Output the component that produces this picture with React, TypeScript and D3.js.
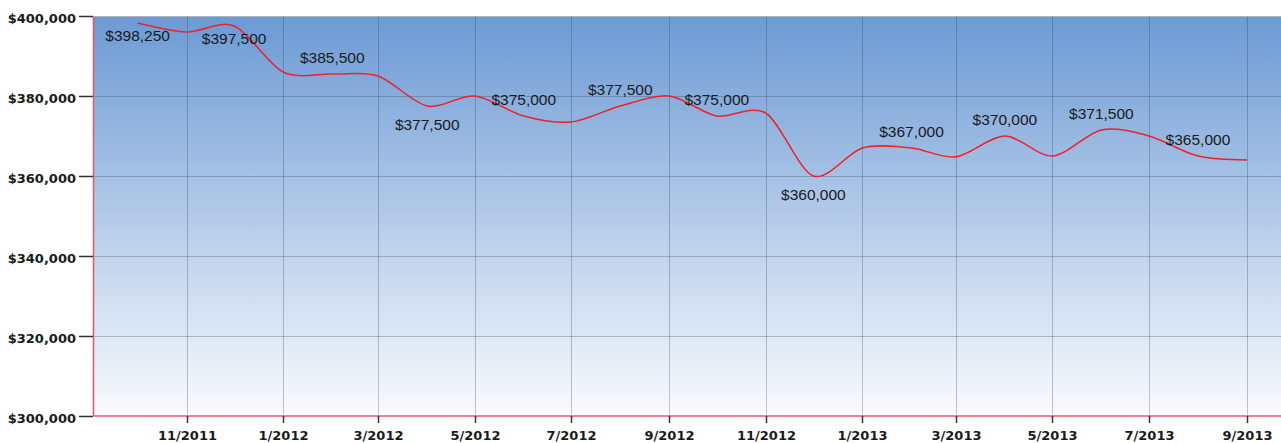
import React from "react";
import * as d3 from "d3";

const months: string[] = [
  "2011-10-01", "2011-11-01", "2011-12-01", "2012-01-01", "2012-02-01", "2012-03-01",
  "2012-04-01", "2012-05-01", "2012-06-01", "2012-07-01", "2012-08-01", "2012-09-01",
  "2012-10-01", "2012-11-01", "2012-12-01", "2013-01-01", "2013-02-01", "2013-03-01",
  "2013-04-01", "2013-05-01", "2013-06-01", "2013-07-01", "2013-08-01", "2013-09-01",
];
const prices: number[] = [
  398250, 396000, 397500, 386000, 385500, 385000,
  377500, 380000, 375000, 373500, 377500, 380000,
  375000, 375700, 360000, 367000, 367000, 364800,
  370000, 365000, 371500, 370000, 365000, 364000,
];
// which points carry a value label, and whether it sits above or below the line
const labelPlacement: string[] = [
  "below", "", "below", "", "above", "",
  "below", "", "above", "", "above", "",
  "above", "", "below", "", "above", "",
  "above", "", "above", "", "above", "",
];
const yTicks: number[] = [300000, 320000, 340000, 360000, 380000, 400000];

const W = 1281;
const H = 443;
const plotLeft = 93.5;
const plotTop = 16.5;
const plotBottom = 416;
const plotRight = 1295;

export default function App() {
  const parse = d3.timeParse("%Y-%m-%d");
  const dates = months.map((m) => parse(m) as Date);
  const data = dates.map((d, i) => ({ date: d, value: prices[i], place: labelPlacement[i] }));

  const x = d3
    .scaleTime()
    .domain([dates[0], dates[dates.length - 1]])
    .range([137.6, 1247]);
  const y = d3.scaleLinear().domain([300000, 400000]).range([plotBottom, plotTop - 0.5]);

  const xTicks = d3.timeMonth
    .every(2)!
    .range(d3.timeMonth.offset(dates[0], 0), d3.timeDay.offset(dates[dates.length - 1], 1));
  const fmtX = (d: Date) => `${d.getMonth() + 1}/${d.getFullYear()}`;
  const fmtY = (v: number) => "$" + d3.format(",")(v);

  const line = d3
    .line<{ date: Date; value: number }>()
    .x((d) => x(d.date))
    .y((d) => y(d.value))
    .curve(d3.curveCardinal.tension(0.1));

  return (
    <svg
      width={W}
      height={H}
      style={{ position: "absolute", left: 0, top: 0, background: "#ffffff" }}
    >
      <defs>
        <linearGradient id="bg" x1="0" y1="0" x2="0" y2="1">
          <stop offset="0%" stopColor="rgb(108,154,212)" />
          <stop offset="100%" stopColor="rgb(250,251,253)" />
        </linearGradient>
        <clipPath id="plotClip">
          <rect x={plotLeft} y={plotTop} width={plotRight - plotLeft} height={plotBottom - plotTop} />
        </clipPath>
      </defs>
      <rect
        x={plotLeft}
        y={plotTop}
        width={plotRight - plotLeft}
        height={plotBottom - plotTop}
        fill="url(#bg)"
      />
      {/* gridlines */}
      <g stroke="rgba(40,50,70,0.28)" strokeWidth={1}>
        {yTicks.slice(1, -1).map((t) => (
          <line key={"gy" + t} x1={plotLeft} x2={plotRight} y1={Math.round(y(t)) + 0.5} y2={Math.round(y(t)) + 0.5} />
        ))}
        {xTicks.map((t) => (
          <line
            key={"gx" + t.getTime()}
            x1={Math.round(x(t)) + 0.5}
            x2={Math.round(x(t)) + 0.5}
            y1={plotTop}
            y2={plotBottom}
          />
        ))}
      </g>
      {/* top border */}
      <line x1={plotLeft} x2={plotRight} y1={plotTop} y2={plotTop} stroke="#aab4c4" strokeWidth={1} />
      {/* series */}
      <path
        d={line(data) || ""}
        fill="none"
        stroke="#f0202a"
        strokeWidth={1.5}
        clipPath="url(#plotClip)"
      />
      {/* value labels */}
      <g fontFamily="'Liberation Sans', Arial, sans-serif" fontSize={15.5} fill="#1a1a22" textAnchor="middle">
        {data
          .filter((d) => d.place !== "")
          .map((d) => {
            const px = x(d.date);
            const py = y(d.value);
            const by = d.place === "above" ? py - 11 : d.value > 390000 ? py + 18 : py + 24;
            return (
              <text key={"lab" + d.date.getTime()} x={px} y={by}>
                {fmtY(d.value)}
              </text>
            );
          })}
      </g>
      {/* axes borders */}
      <line x1={plotLeft} x2={plotLeft} y1={plotTop} y2={plotBottom} stroke="#e4576c" strokeWidth={1.5} />
      <line x1={plotLeft} x2={plotRight} y1={plotBottom} y2={plotBottom} stroke="#e4576c" strokeWidth={1.5} />
      {/* y axis ticks and labels */}
      <g fontFamily="'DejaVu Sans', Verdana, sans-serif" fontWeight="bold" fontSize={13} fill="#1a1a1a">
        {yTicks.map((t) => {
          const ty = Math.round(y(t));
          return (
            <g key={"yt" + t}>
              <line x1={79} x2={plotLeft - 0.5} y1={ty + 0.5} y2={ty + 0.5} stroke="#333" strokeWidth={1.5} />
              <text x={76} y={ty + 6.5} textAnchor="end">
                {fmtY(t)}
              </text>
            </g>
          );
        })}
        {xTicks.map((t) => {
          const tx = Math.round(x(t)) + 0.5;
          return (
            <g key={"xt" + t.getTime()}>
              <line x1={tx} x2={tx} y1={plotBottom} y2={plotBottom + 7} stroke="#333" strokeWidth={1.5} />
              <text x={tx} y={440} textAnchor="middle">
                {fmtX(t)}
              </text>
            </g>
          );
        })}
      </g>
    </svg>
  );
}
